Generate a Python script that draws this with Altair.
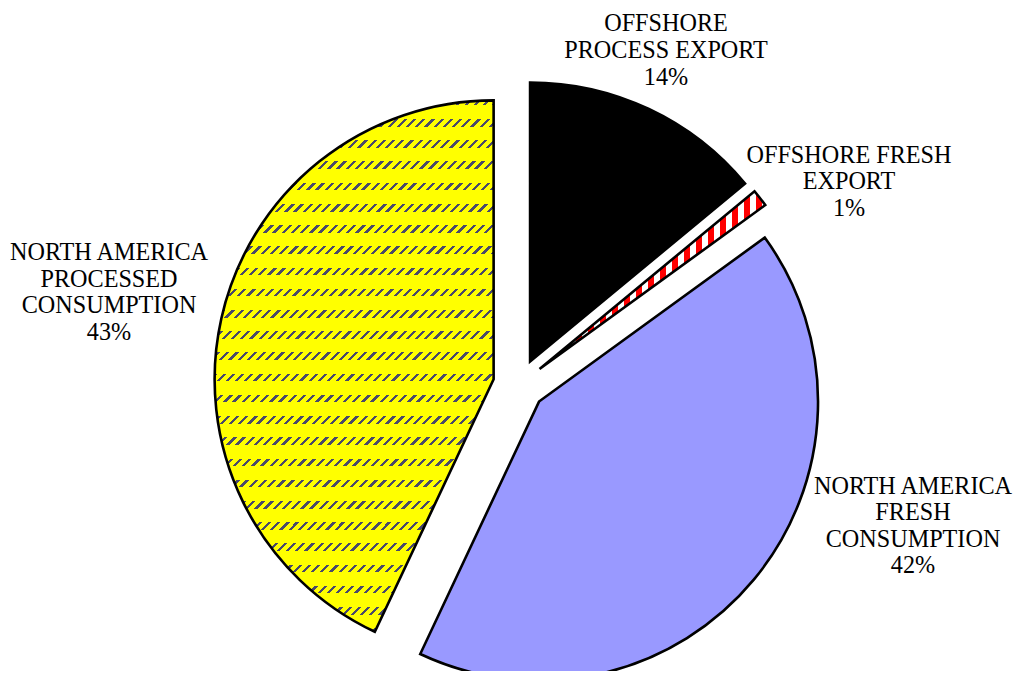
import altair as alt
import pandas as pd

# ---------------- data ----------------
categories = [
    "OFFSHORE PROCESS EXPORT",
    "OFFSHORE FRESH EXPORT",
    "NORTH AMERICA FRESH CONSUMPTION",
    "NORTH AMERICA PROCESSED CONSUMPTION",
]
label_lines = [
    "OFFSHORE\nPROCESS EXPORT",
    "OFFSHORE FRESH\nEXPORT",
    "NORTH AMERICA\nFRESH\nCONSUMPTION",
    "NORTH AMERICA\nPROCESSED\nCONSUMPTION",
]
shares = [14, 1, 42, 43]

# ---------------- layout / style ----------------
W, H = 1005, 663
CX, CY = 511, 377          # pie centre (px)
R = 279                    # pie radius (px)
EXPLODE = 26               # explosion distance (px)
FONT = "Liberation Serif"
FS = 24.2
LH = 26.6
# label block centres (px)
LABEL_POS = [(658, 43), (841, 174.5), (905, 518.5), (101, 285)]

YELLOW = "#ffff00"
YELLOW_T = "rgba(255,255,0,0)"
DASH = "#4a4a6a"


def hatch_band_stops():
    # horizontal rows of dashes (relative to the slice bounding box height)
    hb = 531.0
    stops = [{"offset": 0, "color": YELLOW}]
    for k in range(-1, 27):
        c = 22.5 + 21.2 * k
        a = max(0.0, (c - 3.8) / hb)
        b = min(1.0, (c + 3.8) / hb)
        if a >= 1:
            break
        stops += [
            {"offset": a, "color": YELLOW},
            {"offset": a, "color": DASH},
            {"offset": b, "color": DASH},
            {"offset": b, "color": YELLOW},
        ]
    stops.append({"offset": 1, "color": YELLOW})
    return stops


def hatch_diag_stops():
    # diagonal "/" breaks, period ~9.2px along x
    wb, hb = 279.0, 531.0
    denom = (wb * wb + hb * hb) / wb
    p = 9.2 / denom
    stops = []
    k = 0
    while k * p < 0.7:
        t0 = k * p
        t1 = t0 + 0.64 * p
        t2 = t0 + p
        stops += [
            {"offset": t0, "color": YELLOW},
            {"offset": t1, "color": YELLOW},
            {"offset": t1, "color": YELLOW_T},
            {"offset": t2, "color": YELLOW_T},
        ]
        k += 1
    stops.append({"offset": 1, "color": YELLOW})
    return stops


def checker_stops():
    wb = 225.7
    p = 12.0 / wb
    stops = []
    k = 0
    while k * p < 1:
        t0 = k * p
        t1 = min(1.0, t0 + 0.5 * p)
        t2 = min(1.0, t0 + p)
        stops += [
            {"offset": t0, "color": "#ff0000"},
            {"offset": t1, "color": "#ff0000"},
            {"offset": t1, "color": "#ffffff"},
            {"offset": t2, "color": "#ffffff"},
        ]
        k += 1
    return stops


df = pd.DataFrame({
    "category": categories,
    "share": shares,
    "order": list(range(len(categories))),
})

base = (
    alt.Chart(df)
    .transform_window(cum="sum(share)", sort=[alt.SortField("order")], frame=[None, 0])
    .transform_joinaggregate(total="sum(share)")
    .transform_calculate(
        t1="datum.cum / datum.total * 2 * PI",
        t0="(datum.cum - datum.share) / datum.total * 2 * PI",
    )
    .transform_calculate(mid="(datum.t0 + datum.t1) / 2")
    .transform_calculate(
        px=f"{CX} + {EXPLODE} * sin(datum.mid)",
        py=f"{CY} - {EXPLODE} * cos(datum.mid)",
    )
    .encode(
        x=alt.X("px:Q", scale=None, axis=None),
        y=alt.Y("py:Q", scale=None, axis=None),
        theta=alt.Theta("t0:Q", scale=None),
        theta2=alt.Theta2("t1:Q"),
    )
)

black = base.transform_filter(alt.datum.order == 0).mark_arc(
    radius=R, fill="#000000", strokeWidth=0)
red = base.transform_filter(alt.datum.order == 1).mark_arc(
    radius=R, strokeWidth=0,
    fill={"gradient": "linear", "x1": 0, "y1": 0, "x2": 1, "y2": 0, "stops": checker_stops()})
lavender = base.transform_filter(alt.datum.order == 2).mark_arc(
    radius=R, fill="#9999ff", strokeWidth=0)
yellow = base.transform_filter(alt.datum.order == 3).mark_arc(
    radius=R, strokeWidth=0,
    fill={"gradient": "linear", "x1": 0, "y1": 0, "x2": 0, "y2": 1, "stops": hatch_band_stops()})
yellow_over = base.transform_filter(alt.datum.order == 3).mark_arc(
    radius=R, strokeWidth=0,
    fill={"gradient": "linear", "x1": 0, "y1": 0, "x2": 1, "y2": 531.0 / 279.0,
          "stops": hatch_diag_stops()})
outline = base.mark_arc(radius=R, fill="#000000", fillOpacity=0,
                        stroke="#000000", strokeWidth=2.6)

# Vega puts the first line of a multi-line label at y, so shift up by half the block
n_lines = [t.count("\n") + 2 for t in label_lines]
lab_df = pd.DataFrame({
    "text": [f"{l}\n{s}%" for l, s in zip(label_lines, shares)],
    "lx": [p[0] for p in LABEL_POS],
    "ly": [p[1] - (n - 1) / 2 * LH for p, n in zip(LABEL_POS, n_lines)],
})
labels = alt.Chart(lab_df).mark_text(
    font=FONT, fontSize=FS, lineHeight=LH, lineBreak="\n",
    align="center", baseline="middle", color="#000000",
).encode(
    x=alt.X("lx:Q", scale=None, axis=None),
    y=alt.Y("ly:Q", scale=None, axis=None),
    text="text:N",
)

chart = (
    alt.layer(black, red, lavender, yellow, yellow_over, outline, labels)
    .properties(width=W, height=H, padding=0,
                autosize=alt.AutoSizeParams(type="none"))
    .configure_view(strokeWidth=0)
)

chart.save("out.html", embed_options={"renderer": "svg", "actions": False})
